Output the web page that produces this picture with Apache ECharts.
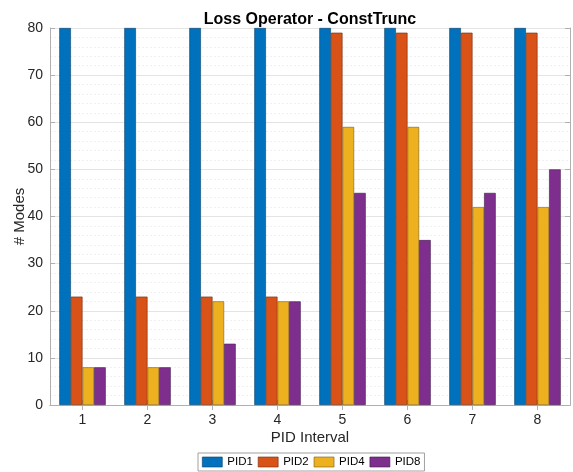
<!DOCTYPE html>
<html><head><meta charset="utf-8">
<script src="https://cdn.jsdelivr.net/npm/echarts@6/dist/echarts.min.js"></script>
<style>html,body{margin:0;padding:0;background:#fff}#c{width:573px;height:472px}</style>
</head><body><div id="c"></div>
<script>
const categories = ['1','2','3','4','5','6','7','8'];
const seriesNames = ['PID1','PID2','PID4','PID8'];
const pid1 = [80,80,80,80,80,80,80,80];
const pid2 = [23,23,23,23,79,79,79,79];
const pid4 = [8,8,22,22,59,59,42,42];
const pid8 = [8,8,13,22,45,35,45,50];
const yTicks = [0,10,20,30,40,50,60,70,80];

const colors = ['#0072BD','#D95319','#EDB120','#7E2F8E'];
const borders = ['#0a3f66','#6e2a0c','#7a5a10','#3f1748'];
const values = [pid1,pid2,pid4,pid8];
const font = '"Liberation Sans", Arial, Helvetica, sans-serif';
const axisGray = '#b0b0b0';
const textColor = '#262626';

const chart = echarts.init(document.getElementById('c'), null, {renderer:'canvas'});
chart.setOption({
  animation:false,
  backgroundColor:'#fff',
  title:{text:'Loss Operator - ConstTrunc', left:305, textAlign:'center', top:7,
    textStyle:{fontFamily:font,fontSize:16,fontWeight:'bold',color:'#000'}},
  legend:{data:seriesNames, bottom:1, left:198, icon:'rect', itemWidth:20, itemHeight:10, itemGap:5,
    borderColor:'#a0a0a0', borderWidth:1, padding:[3,4], backgroundColor:'#fff',
    textStyle:{fontFamily:font,fontSize:11.5,color:'#000'},
    itemStyle:{borderWidth:0.6}},
  grid:{left:50,right:3,top:28,bottom:67,containLabel:false,outerBoundsMode:'none'},
  xAxis:[{type:'category',data:categories,position:'bottom',boundaryGap:true,
    name:'PID Interval',nameLocation:'middle',nameGap:25,nameMoveOverlap:false,
    nameTextStyle:{fontFamily:font,fontSize:15,color:textColor},
    axisLine:{lineStyle:{color:axisGray,width:1}},
    axisTick:{show:true,inside:true,alignWithLabel:true,length:5,lineStyle:{color:axisGray}},
    axisLabel:{fontFamily:font,fontSize:14,color:textColor,margin:8},
    splitLine:{show:false}},
   {type:'category',data:categories,position:'top',boundaryGap:true,
    axisLine:{lineStyle:{color:axisGray,width:1}},
    axisTick:{show:true,inside:true,alignWithLabel:true,length:5,lineStyle:{color:axisGray}},
    axisLabel:{show:false},splitLine:{show:false}}],
  yAxis:[{type:'value',min:0,max:80,interval:10,position:'left',
    name:'# Modes',nameLocation:'middle',nameGap:23,nameRotate:90,nameMoveOverlap:false,
    nameTextStyle:{fontFamily:font,fontSize:15,color:textColor},
    axisLine:{show:true,lineStyle:{color:axisGray,width:1}},
    axisTick:{show:true,inside:true,length:5,lineStyle:{color:axisGray}},
    axisLabel:{fontFamily:font,fontSize:14,color:textColor,margin:7,
      formatter:function(v){return yTicks.indexOf(v)>=0?String(v):'';}},
    splitLine:{show:true,lineStyle:{color:'#e4e4e4',width:1}},
    minorTick:{show:false,splitNumber:5},
    minorSplitLine:{show:true,lineStyle:{color:'#f0f0f0',width:1,type:[2,2]}}},
   {type:'value',min:0,max:80,interval:10,position:'right',
    axisLine:{show:true,lineStyle:{color:axisGray,width:1}},
    axisTick:{show:true,inside:true,length:5,lineStyle:{color:axisGray}},
    axisLabel:{show:false},splitLine:{show:false}}],
  series: seriesNames.map(function(n,i){return {
    name:n,type:'bar',data:values[i],xAxisIndex:0,yAxisIndex:0,
    barWidth:11.6,barGap:'0%',
    itemStyle:{color:colors[i],borderColor:borders[i],borderWidth:0.6}
  };})
});
</script></body></html>
